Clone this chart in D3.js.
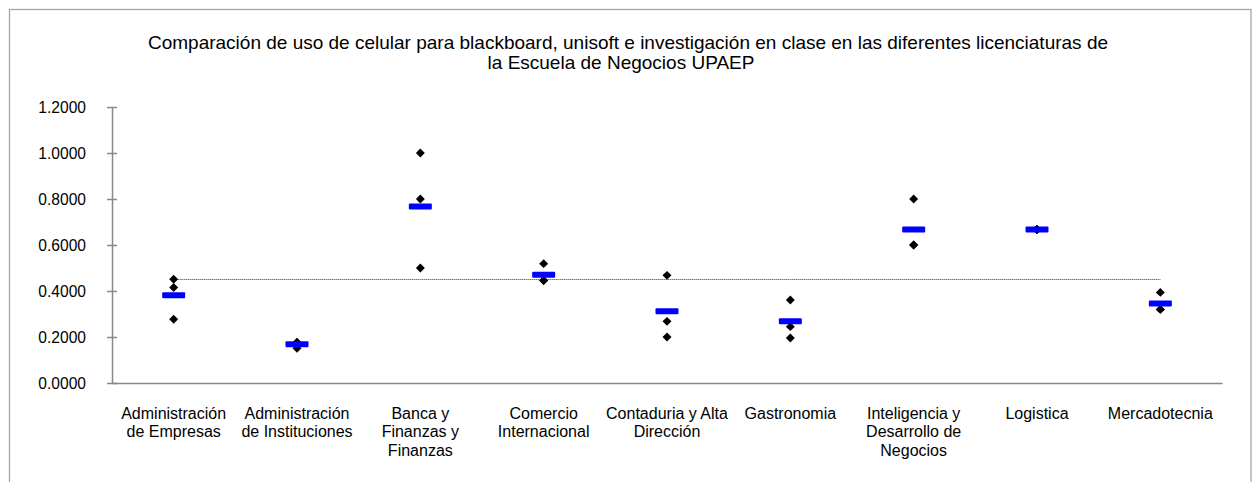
<!DOCTYPE html>
<html>
<head>
<meta charset="utf-8">
<script src="https://cdn.jsdelivr.net/npm/d3@7"></script>
<style>
  html, body { margin: 0; padding: 0; background: #fff; }
  svg { display: block; font-family: "Liberation Sans", Arial, sans-serif; }
</style>
</head>
<body>
<svg id="chart" width="1257" height="482"></svg>
<script>
const titleLines = [
  "Comparación de uso de celular para blackboard, unisoft e investigación en clase en las diferentes licenciaturas de",
  "la Escuela de Negocios UPAEP"
];
const categories = [
  "Administración de Empresas",
  "Administración de Instituciones",
  "Banca y Finanzas y Finanzas",
  "Comercio Internacional",
  "Contaduria y Alta Dirección",
  "Gastronomia",
  "Inteligencia y Desarrollo de Negocios",
  "Logistica",
  "Mercadotecnia"
];
const categoryLabelLines = [
  ["Administración", "de Empresas"],
  ["Administración", "de Instituciones"],
  ["Banca y", "Finanzas y", "Finanzas"],
  ["Comercio", "Internacional"],
  ["Contaduria y Alta", "Dirección"],
  ["Gastronomia"],
  ["Inteligencia y", "Desarrollo de", "Negocios"],
  ["Logistica"],
  ["Mercadotecnia"]
];
const blackboard    = [0.451, 0.177, 1.000, 0.519, 0.468, 0.361, 0.800, 0.667, 0.394];
const unisoft       = [0.415, 0.151, 0.800, 0.446, 0.268, 0.245, 0.600, 0.667, 0.320];
const investigacion = [0.277, 0.175, 0.500, 0.446, 0.200, 0.196, 0.600, 0.667, 0.320];
const promedio      = [0.381, 0.168, 0.767, 0.471, 0.312, 0.268, 0.667, 0.667, 0.346];
const promedioGeneral = [0.45, 0.45, 0.45, 0.45, 0.45, 0.45, 0.45, 0.45, 0.45];
const yTicks = [0, 0.2, 0.4, 0.6, 0.8, 1.0, 1.2];

const svg = d3.select("#chart");

// outer frame
svg.append("rect")
  .attr("x", 9.5).attr("y", 9.5)
  .attr("width", 1241.5).attr("height", 500)
  .attr("fill", "#fff").attr("stroke", "#a6a6a6").attr("stroke-width", 1.3);

// title
svg.append("text").attr("x", 628).attr("y", 49)
  .attr("text-anchor", "middle").attr("font-size", 19).attr("fill", "#000")
  .text(titleLines[0]);
svg.append("text").attr("x", 621).attr("y", 69)
  .attr("text-anchor", "middle").attr("font-size", 19).attr("fill", "#000")
  .text(titleLines[1]);

const x = d3.scaleBand().domain(categories).range([112, 1222]);
const y = d3.scaleLinear().domain([0, 1.2]).range([383, 107]);
const cx = d => x(d) + x.bandwidth() / 2;

// y axis
const yAxis = svg.append("g").attr("transform", "translate(112,0)")
  .call(d3.axisLeft(y).tickValues(yTicks).tickFormat(d3.format(".4f"))
    .tickSizeInner(5).tickSizeOuter(0).tickPadding(21));
yAxis.select(".domain").attr("stroke", "#888").attr("stroke-width", 1.5);
yAxis.selectAll(".tick line").attr("x1", 5).attr("stroke", "#888").attr("stroke-width", 1.5);
yAxis.selectAll(".tick text").attr("font-size", 15.6).attr("fill", "#000")
  .attr("font-family", "'Liberation Sans', Arial, sans-serif");

// x axis
const xAxis = svg.append("g").attr("transform", "translate(0,383)")
  .call(d3.axisBottom(x).tickSize(0).tickFormat(""));
xAxis.select(".domain").attr("stroke", "#888").attr("stroke-width", 1.5);

const labels = svg.append("g");
categories.forEach((c, i) => {
  const t = labels.append("text").attr("text-anchor", "middle")
    .attr("font-size", 16).attr("fill", "#000");
  categoryLabelLines[i].forEach((ln, j) => {
    t.append("tspan").attr("x", cx(c)).attr("y", 418.5 + j * 18.5).text(ln);
  });
});

// reference line (overall mean)
const line = d3.line().x((d, i) => cx(categories[i])).y(d => y(d));
svg.append("path").datum(promedioGeneral)
  .attr("d", line).attr("fill", "none")
  .attr("stroke", "#333").attr("stroke-width", 1).attr("stroke-dasharray", "1,1");

// diamonds
const diamond = d3.symbol().type(d3.symbolSquare).size(40);
[blackboard, unisoft, investigacion].forEach(series => {
  svg.append("g").selectAll("path").data(series).join("path")
    .attr("d", diamond)
    .attr("transform", (d, i) => `translate(${cx(categories[i])},${y(d)}) rotate(45)`)
    .attr("fill", "#000");
});

// mean dashes
svg.append("g").selectAll("rect").data(promedio).join("rect")
  .attr("x", (d, i) => cx(categories[i]) - 11.5)
  .attr("y", d => y(d) - 3)
  .attr("width", 23).attr("height", 6)
  .attr("rx", 1)
  .attr("fill", "#0000ff");
</script>
</body>
</html>
